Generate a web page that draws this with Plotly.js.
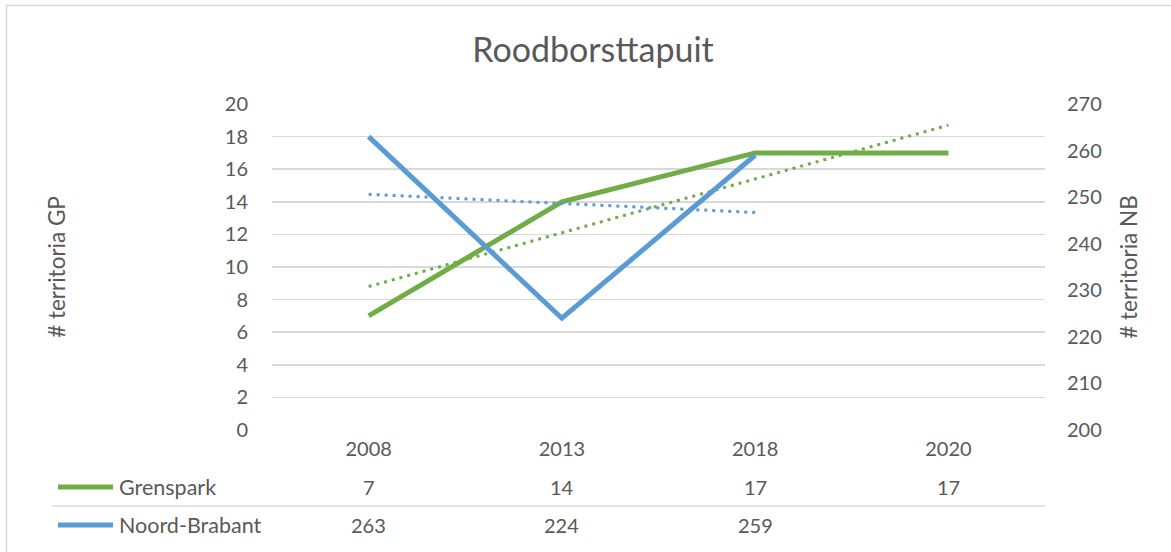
<!DOCTYPE html>
<html>
<head>
<meta charset="utf-8">
<script src="https://cdn.plot.ly/plotly-3.0.1.min.js"></script>
<style>
  html, body { margin: 0; padding: 0; background: #ffffff; }
  #chart { width: 1171px; height: 552px; }
</style>
</head>
<body>
<div id="chart"></div>
<script>
// ---- Data ----
const chartTitle = "Roodborsttapuit";
const years = ["2008", "2013", "2018", "2020"];
const seriesNames = ["Grenspark", "Noord-Brabant"];
const grenspark = [7, 14, 17, 17];
const noordBrabant = [263, 224, 259, null];
// dotted linear trendlines (end points)
const grensparkTrendX = ["2008", "2020"];
const grensparkTrendY = [8.8, 18.7];
const noordBrabantTrendX = ["2008", "2018"];
const noordBrabantTrendY = [250.6, 246.7];
const leftTicks = [0, 2, 4, 6, 8, 10, 12, 14, 16, 18, 20];
const rightTicks = [200, 210, 220, 230, 240, 250, 260, 270];
const leftTitle = "# territoria GP";
const rightTitle = "# territoria NB";

// ---- Style ----
const GREEN = "#70AD47";
const BLUE = "#5B9BD5";
const TEXT = "#595959";
const GRID = "#D9D9D9";
const FONT = "Lato, 'Open Sans', sans-serif";
const FS = 20;

const W = 1171, H = 552;
const L = 272, R = 1045, T = 104, B = 430;
const pw = R - L, ph = B - T;
const px = x => (x - L) / pw;      // pixel -> paper x
const py = y => (B - y) / ph;      // pixel -> paper y

const traces = [
  { x: years, y: grenspark, name: seriesNames[0], type: "scatter", mode: "lines",
    line: { color: GREEN, width: 5 }, xaxis: "x", yaxis: "y", hoverinfo: "x+y" },
  { x: years, y: noordBrabant, name: seriesNames[1], type: "scatter", mode: "lines",
    line: { color: BLUE, width: 5 }, xaxis: "x", yaxis: "y2", hoverinfo: "x+y" },
  { x: grensparkTrendX, y: grensparkTrendY, type: "scatter", mode: "lines",
    line: { color: GREEN, width: 3, dash: "3px,5px" }, yaxis: "y", hoverinfo: "skip" },
  { x: noordBrabantTrendX, y: noordBrabantTrendY, type: "scatter", mode: "lines",
    line: { color: BLUE, width: 3, dash: "3px,5px" }, yaxis: "y2", hoverinfo: "skip" }
];

const rowY = [py(487), py(525)];
const annotations = [];
const shapes = [];
const seriesData = [grenspark, noordBrabant];
const seriesColors = [GREEN, BLUE];
for (let s = 0; s < seriesData.length; s++) {
  for (let i = 0; i < years.length; i++) {
    const v = seriesData[s][i];
    if (v === null || v === undefined) continue;
    annotations.push({ x: i, xref: "x", y: rowY[s], yref: "paper",
      text: String(v), showarrow: false, xanchor: "center", yanchor: "middle",
      font: { family: FONT, size: FS, color: TEXT } });
  }
  annotations.push({ x: px(117), xref: "paper", y: rowY[s], yref: "paper",
    text: seriesNames[s], showarrow: false, xanchor: "left", yanchor: "middle",
    font: { family: FONT, size: 21.5, color: TEXT } });
  shapes.push({ type: "line", xref: "paper", yref: "paper",
    x0: px(58), x1: px(113), y0: rowY[s], y1: rowY[s],
    line: { color: seriesColors[s], width: 5 } });
}
// table row separator
shapes.push({ type: "line", xref: "paper", yref: "paper",
  x0: px(52), x1: px(1045), y0: py(506), y1: py(506),
  line: { color: GRID, width: 1.5 } });
// outer frame
shapes.push({ type: "rect", xref: "paper", yref: "paper",
  x0: px(6.5), x1: px(1190), y0: py(570), y1: py(5.5),
  line: { color: GRID, width: 1.5 }, fillcolor: "rgba(0,0,0,0)" });

const layout = {
  width: W, height: H,
  margin: { l: L, r: W - R, t: T, b: H - B, pad: 0 },
  paper_bgcolor: "#ffffff", plot_bgcolor: "#ffffff",
  showlegend: false,
  font: { family: FONT, size: FS, color: TEXT },
  title: { text: chartTitle, font: { family: FONT, size: 34, color: TEXT },
    x: 593 / W, xref: "container", xanchor: "center", y: 1 - 50 / H, yref: "container", yanchor: "middle" },
  xaxis: {
    type: "category", categoryarray: years, range: [-0.5, years.length - 0.5],
    showgrid: false, zeroline: false, showline: false, ticks: "",
    tickfont: { family: FONT, size: FS, color: TEXT }, ticklabelstandoff: 5
  },
  yaxis: {
    range: [0, 20], tickmode: "array", tickvals: leftTicks,
    showgrid: false, zeroline: false, showline: false, ticks: "",
    minor: { tickmode: "array", tickvals: leftTicks.filter(v => v > 0), showgrid: true, gridcolor: GRID, gridwidth: 1.5, ticks: "" },
    tickfont: { family: FONT, size: FS, color: TEXT }, ticklabelstandoff: 23,
    title: { text: leftTitle, font: { family: FONT, size: 22.5, color: TEXT }, standoff: 152 },
    automargin: false
  },
  yaxis2: {
    overlaying: "y", side: "right", range: [200, 270], tickmode: "array", tickvals: rightTicks,
    showgrid: false, zeroline: false, showline: false, ticks: "",
    tickfont: { family: FONT, size: FS, color: TEXT }, ticklabelstandoff: 21,
    title: { text: rightTitle, font: { family: FONT, size: 22.5, color: TEXT }, standoff: 20 },
    automargin: false
  },
  annotations: annotations,
  shapes: shapes
};

Plotly.newPlot("chart", traces, layout, { displayModeBar: false, staticPlot: true });
</script>
</body>
</html>
